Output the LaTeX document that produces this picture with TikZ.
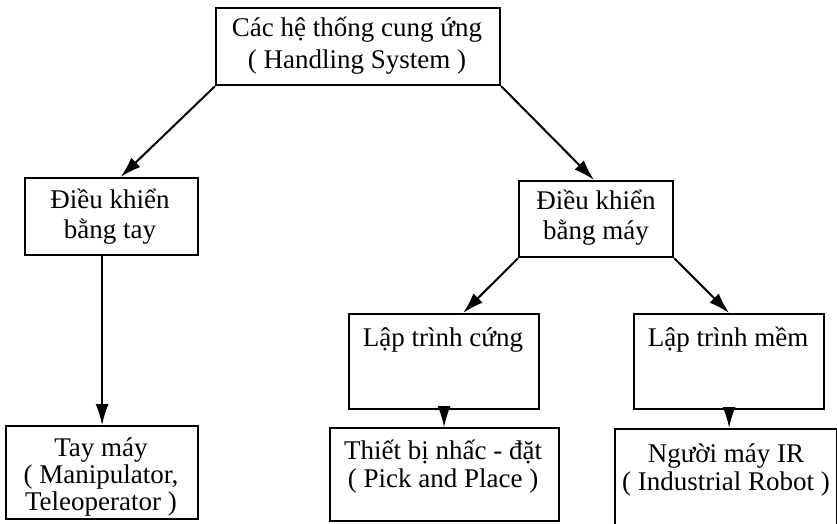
\documentclass[tikz,border=0pt]{standalone}
\usepackage{fontspec}
\setmainfont{Liberation Serif}
\usetikzlibrary{arrows.meta,calc}

\begin{document}
\begin{tikzpicture}[x=1pt,y=-1pt,
  box/.style={draw, line width=2.2pt, rectangle, inner sep=0pt, anchor=north west},
  lbl/.style={align=center, inner sep=0pt, font=\fontsize{27}{30}\selectfont},
  link/.style={line width=2pt, -{Latex[length=21pt,width=13pt]}},
]
\useasboundingbox (0,0) rectangle (837,523);

% boxes
\node[box, minimum width=284pt, minimum height=77pt] (top)   at (215,7)   {};
\node[box, minimum width=173pt, minimum height=77pt] (lm)    at (24,177)  {};
\node[box, minimum width=154pt, minimum height=76pt] (rm)    at (518,180) {};
\node[box, minimum width=190pt, minimum height=95pt] (hard)  at (348,313) {};
\node[box, minimum width=190pt, minimum height=95pt] (soft)  at (633,313) {};
\node[box, minimum width=192pt, minimum height=93pt] (manip) at (5,425)   {};
\node[box, minimum width=229pt, minimum height=93pt] (pick)  at (329,427) {};
\node[box, minimum width=222pt, minimum height=98pt] (robot) at (614,428) {};

% labels
\node[lbl, font=\fontsize{27}{32}\selectfont] (topT) at (357,46) {Các hệ thống cung ứng\\( Handling System )};
\node[lbl] (lmT)    at (110,217) {Điều khiển\\bằng tay};
\node[lbl] (rmT)    at (596,218) {Điều khiển\\bằng máy};
\node[lbl] (hardT)  at (443,340) {Lập trình cứng};
\node[lbl] (softT)  at (728,340) {Lập trình mềm};
\node[lbl, font=\fontsize{27}{27}\selectfont] (manipT) at (101,477) {Tay máy\\( Manipulator,\\Teleoperator )};
\node[lbl, font=\fontsize{27}{28}\selectfont] (pickT)  at (443,467) {Thiết bị nhấc - đặt\\( Pick and Place )};
\node[lbl, font=\fontsize{27}{28}\selectfont] (robotT) at (726,470) {Người máy IR\\( Industrial Robot )};

% connectors
\draw[link] (top.south west) -- ($(lm.north)+(9,0)$);
\draw[link] (top.south east) -- ($(rm.north)+(-2,0)$);
\draw[link] (rm.south west) -- ($(hard.north)+(19,0)$);
\draw[link] (rm.south east) -- (soft.north);
\draw[link, line width=1.5pt] (lm.south -| manip.north) -- (manip.north);
\draw[link, line width=1.2pt] (hard.south) -- (hard.south |- pick.north);
\draw[link, line width=2.2pt] (soft.south) -- (soft.south |- robot.north);
\end{tikzpicture}
\end{document}
